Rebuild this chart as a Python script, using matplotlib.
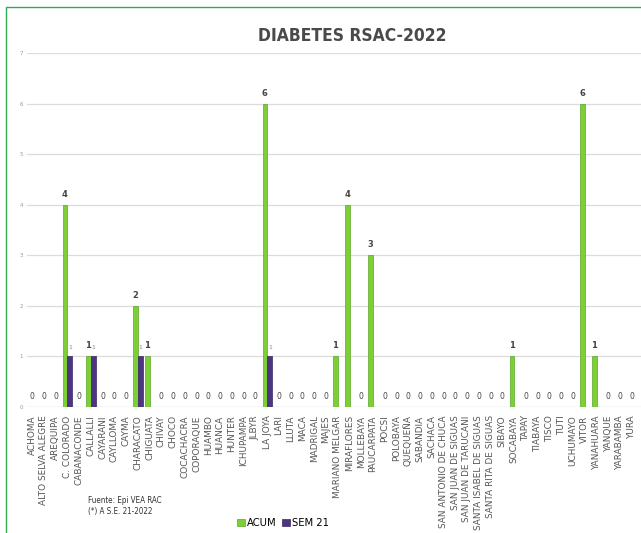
import numpy as np
import matplotlib
matplotlib.use("Agg")
import matplotlib.pyplot as plt
from matplotlib.patches import Rectangle
from matplotlib import font_manager
from matplotlib.font_manager import FontProperties

# distritos
distritos = ["ACHOMA", "ALTO SELVA ALEGRE", "AREQUIPA", "C. COLORADO", "CABANACONDE",
             "CALLALLI", "CAYARANI", "CAYLLOMA", "CAYMA", "CHARACATO", "CHIGUATA",
             "CHIVAY", "CHOCO", "COCACHACRA", "COPORAQUE", "HUAMBO", "HUANCA", "HUNTER",
             "ICHUPAMPA", "JLBYR", "LA JOYA", "LARI", "LLUTA", "MACA", "MADRIGAL", "MAJES",
             "MARIANO MELGAR", "MIRAFLORES", "MOLLEBAYA", "PAUCARPATA", "POCSI",
             "POLOBAYA", "QUEQUEÑA", "SABANDIA", "SACHACA", "SAN ANTONIO DE CHUCA",
             "SAN JUAN DE SIGUAS", "SAN JUAN DE TARUCANI", "SANTA ISABEL DE SIGUAS",
             "SANTA RITA DE SIGUAS", "SIBAYO", "SOCABAYA", "TAPAY", "TIABAYA", "TISCO",
             "TUTI", "UCHUMAYO", "VITOR", "YANAHUARA", "YANQUE", "YARABAMBA", "YURA"]

acum_casos = {"C. COLORADO": 4, "CALLALLI": 1, "CHARACATO": 2, "CHIGUATA": 1,
              "LA JOYA": 6, "MARIANO MELGAR": 1, "MIRAFLORES": 4, "PAUCARPATA": 3,
              "SOCABAYA": 1, "VITOR": 6, "YANAHUARA": 1}
sem21_casos = {"C. COLORADO": 1, "CALLALLI": 1, "CHARACATO": 1, "LA JOYA": 1}

acum = [acum_casos.get(d, 0) for d in distritos]
sem21 = [sem21_casos.get(d, 0) for d in distritos]

verde = "#7ccf35"
morado = "#4e3581"


def buscar_angosta(negrita):
    # archivo de fuente condensada, si existe
    for f in font_manager.fontManager.ttflist:
        if f.style != "normal":
            continue
        if f.stretch not in ("condensed", "semi-condensed", "extra-condensed") and \
                "Narrow" not in f.name and "Condensed" not in f.name:
            continue
        w = f.weight if isinstance(f.weight, int) else (700 if "bold" in str(f.weight) else 400)
        if (w >= 600) == negrita:
            return f.fname
    return None


f_bold = buscar_angosta(True)
f_reg = buscar_angosta(False)
if f_bold:
    fp_titulo = FontProperties(fname=f_bold, size=12.5)
else:
    fp_titulo = FontProperties(family="Liberation Sans", weight="bold", size=11)
if f_reg:
    fp_leyenda = FontProperties(fname=f_reg, size=8)
    fp_nota = FontProperties(fname=f_reg, size=5.8)
else:
    fp_leyenda = FontProperties(family="Liberation Sans", size=7.5)
    fp_nota = FontProperties(family="Liberation Sans", size=5.2)

fig = plt.figure(figsize=(6.41, 5.33), dpi=100)
ax = fig.add_axes([0.042, 0.2364, 0.958, 0.664])

x = np.arange(len(distritos))
w = 0.4
ax.bar(x - w / 2 + 0.02, acum, w, color=verde, edgecolor="#5aa82a", linewidth=0.5,
       label="ACUM", zorder=3)
ax.bar(x + w / 2 + 0.02, sem21, w, color=morado, edgecolor="#3a2566", linewidth=0.5,
       label="SEM 21", zorder=3)

for i in range(len(distritos)):
    if acum[i] == 0:
        ax.text(x[i], 0.12, "0", ha="center", va="bottom", fontsize=5.5, color="#444444")
    else:
        ax.text(x[i] - w / 2, acum[i] + 0.12, str(acum[i]), ha="center", va="bottom",
                fontsize=6, fontweight="bold", color="#444444")
    if sem21[i] > 0:
        ax.text(x[i] + w / 2 + 0.05, sem21[i] + 0.12, str(sem21[i]), ha="center",
                va="bottom", fontsize=4.5, color="#888888")

ax.set_ylim(0, 7)
ax.set_xlim(-0.43, 51.8)
ax.set_yticks(range(8))
ax.tick_params(axis="y", labelsize=4, colors="#999999", length=0, pad=3)
ax.set_xticks(x)
ax.set_xticklabels(distritos, rotation=90, fontsize=6.4, color="#555555")
ax.tick_params(axis="x", length=0, pad=6)
ax.grid(axis="y", color="#dcdcdc", linewidth=0.9, zorder=0)
for s in ax.spines.values():
    s.set_visible(False)
ax.axhline(0, color="#dcdcdc", linewidth=0.9, zorder=1)

fig.text(0.549, 0.933, "DIABETES RSAC-2022", ha="center", va="center",
         color="#4a4a4a", fontproperties=fp_titulo)

fig.text(0.137, 0.051, "Fuente: Epi VEA RAC\n(*) A S.E. 21-2022", ha="left", va="center",
         color="#333333", linespacing=1.3, fontproperties=fp_nota)

fig.legend(loc="center", bbox_to_anchor=(0.442, 0.018), ncol=2, frameon=False,
           handlelength=0.7, handleheight=0.7, handletextpad=0.2,
           columnspacing=0.5, prop=fp_leyenda)

# marco verde
fig.patches.append(Rectangle((0.009, -0.1), 1.2, 1.087, transform=fig.transFigure,
                             fill=False, edgecolor="#34a853", linewidth=1.0))

fig.savefig("out.png", dpi=100)
